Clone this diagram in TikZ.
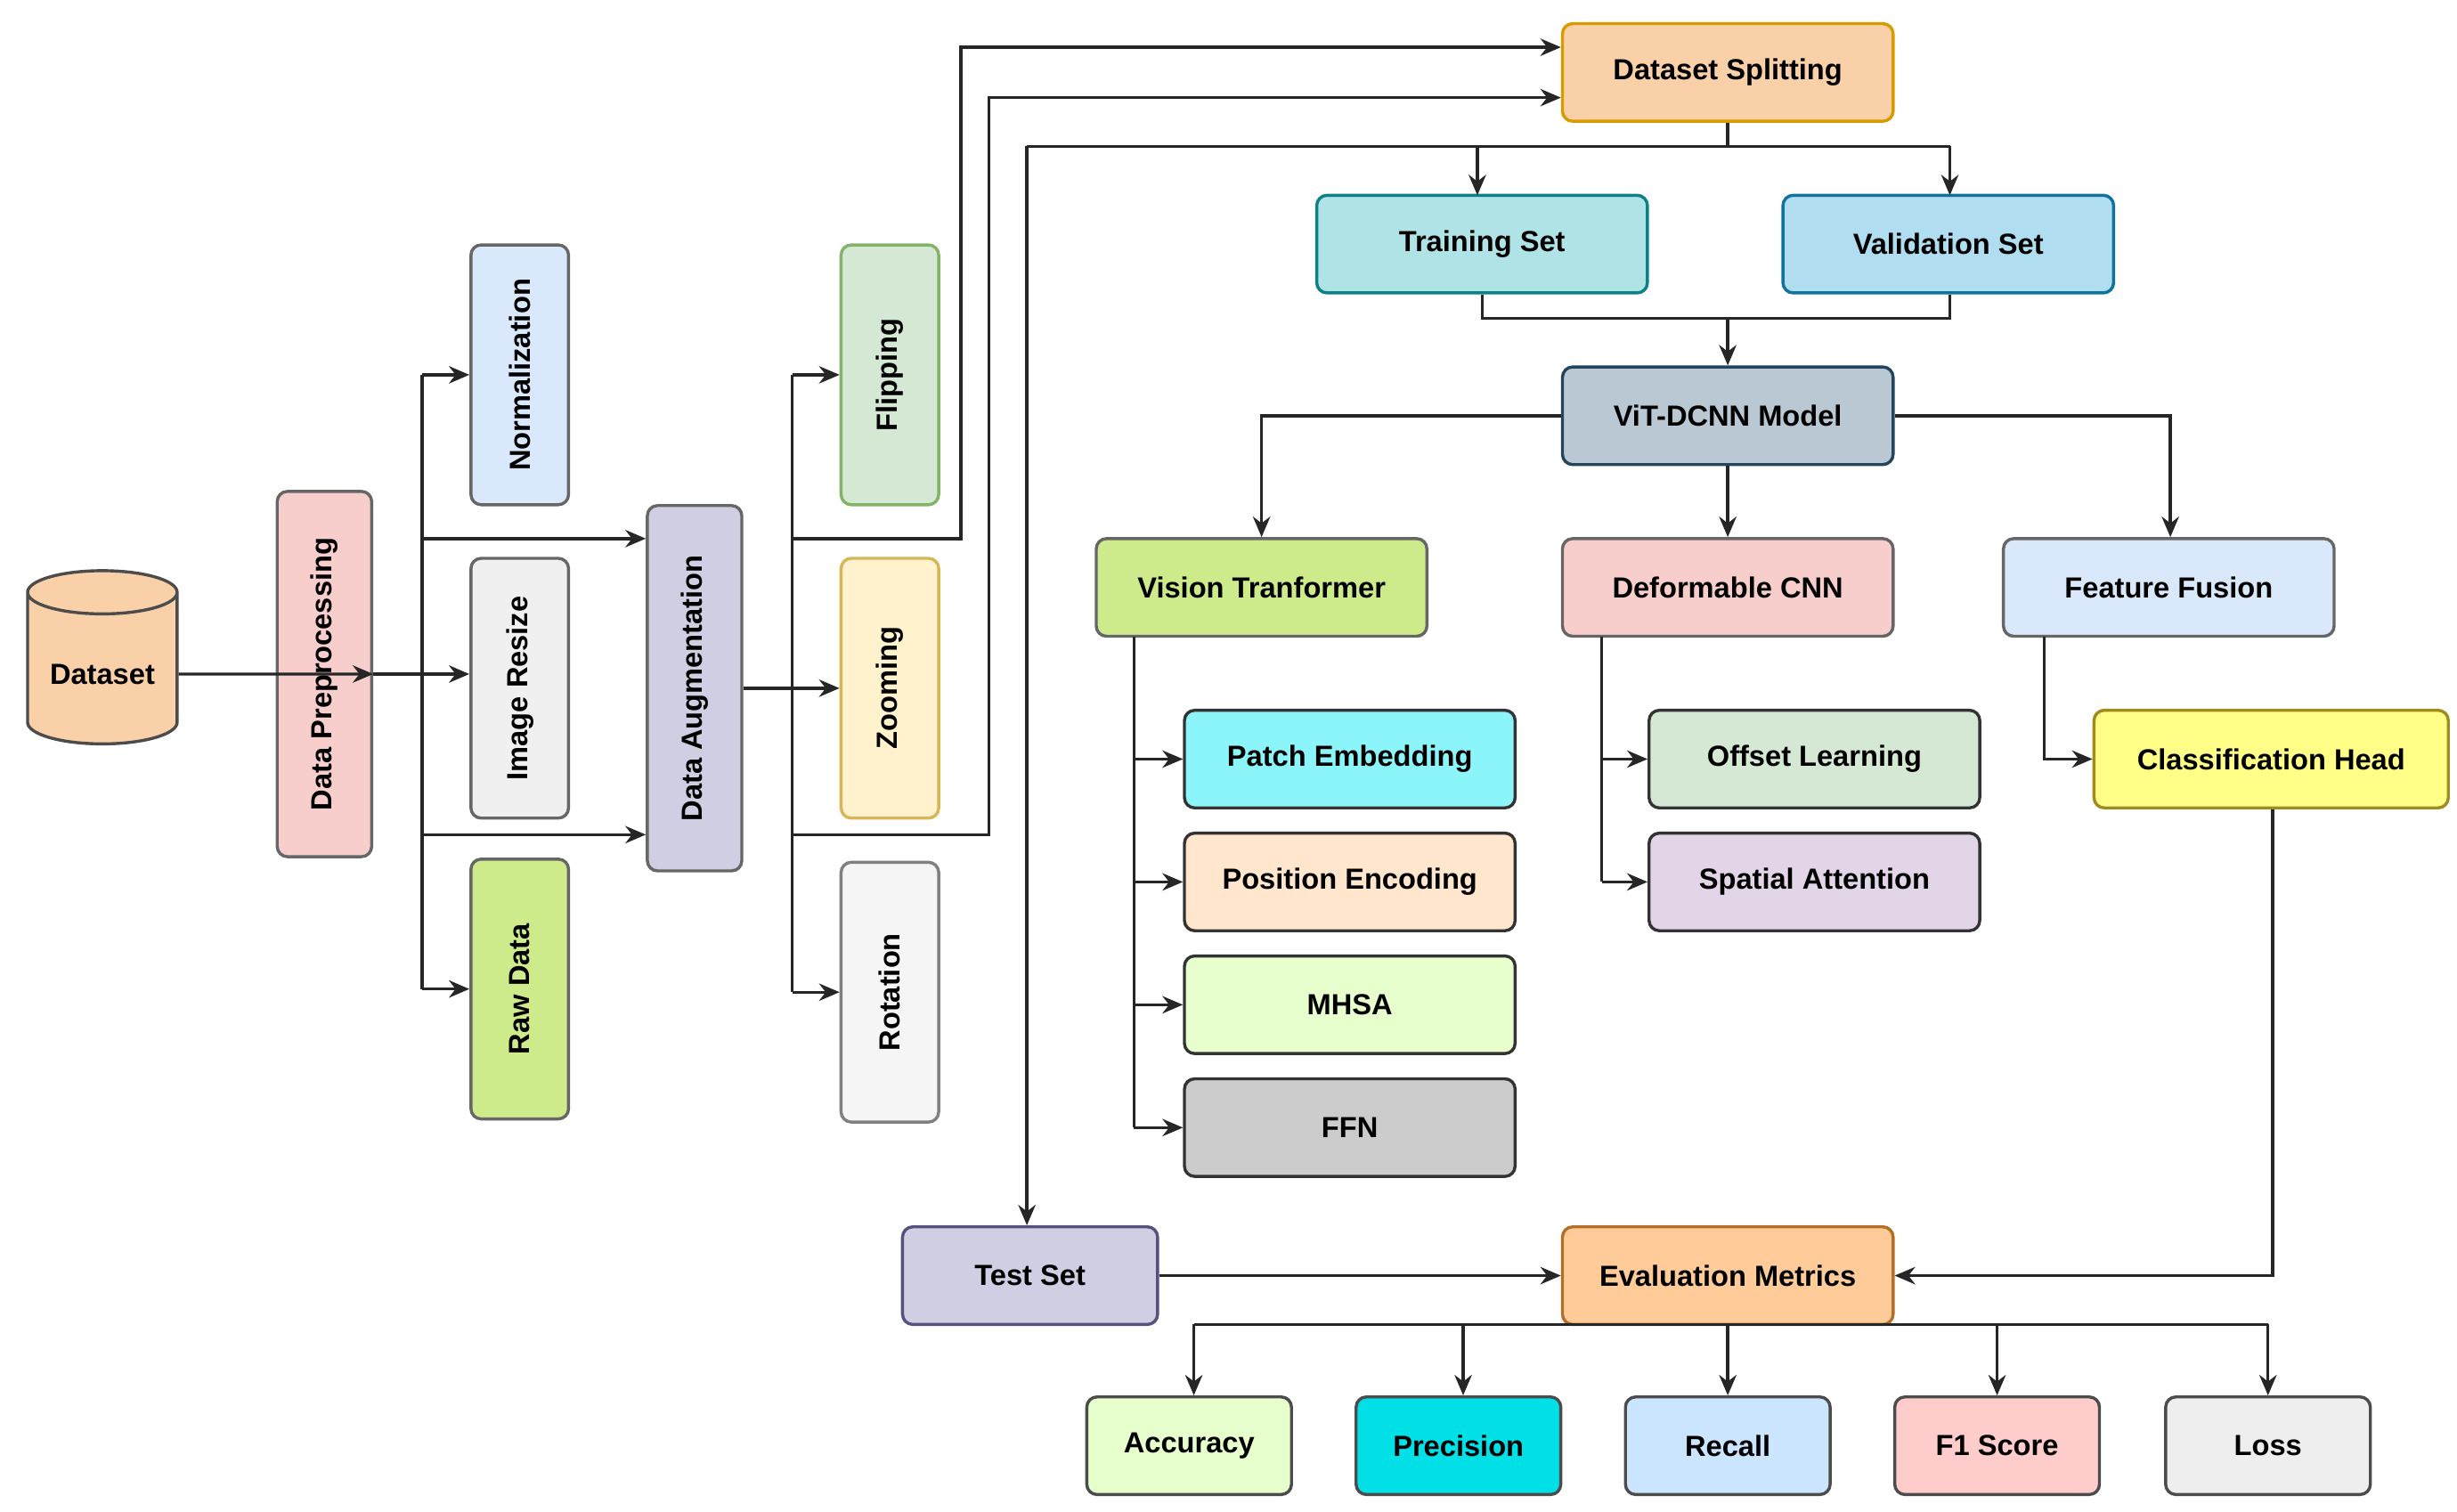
\documentclass[tikz,border=0pt]{standalone}
\usepackage{fontspec}
\setmainfont{Liberation Sans}
\usetikzlibrary{arrows.meta,shapes.geometric}
\definecolor{cOrF}{RGB}{250,208,168}\definecolor{cOrD}{RGB}{215,155,0}
\definecolor{cPk}{RGB}{248,206,204}\definecolor{cBl}{RGB}{218,232,252}
\definecolor{cGy}{RGB}{240,240,240}\definecolor{cGr}{RGB}{205,235,139}
\definecolor{cPu}{RGB}{208,206,226}
\definecolor{cFlF}{RGB}{213,232,212}\definecolor{cFlD}{RGB}{130,179,102}
\definecolor{cZoF}{RGB}{255,242,204}\definecolor{cZoD}{RGB}{214,182,86}
\definecolor{cRo}{RGB}{245,245,245}
\definecolor{cTrF}{RGB}{176,227,230}\definecolor{cTrD}{RGB}{14,128,136}
\definecolor{cVaF}{RGB}{177,221,240}\definecolor{cVaD}{RGB}{16,115,158}
\definecolor{cViF}{RGB}{186,200,211}\definecolor{cViD}{RGB}{35,68,93}
\definecolor{cPe}{RGB}{140,245,250}\definecolor{cPo}{RGB}{255,230,204}
\definecolor{cMh}{RGB}{230,255,204}\definecolor{cFn}{RGB}{204,204,204}
\definecolor{cSa}{RGB}{225,213,231}
\definecolor{cChF}{RGB}{255,255,136}\definecolor{cChD}{RGB}{160,140,30}
\definecolor{cTsD}{RGB}{86,81,125}
\definecolor{cEvF}{RGB}{255,204,153}\definecolor{cEvD}{RGB}{180,110,40}
\definecolor{cPr}{RGB}{0,224,230}\definecolor{cRe}{RGB}{204,229,255}
\definecolor{cF1}{RGB}{255,204,204}\definecolor{cLo}{RGB}{238,238,238}
\begin{document}
\begin{tikzpicture}[x=0.02cm,y=-0.02cm,
 bx/.style={draw=#1,line width=1.1pt,rounded corners=1.3mm,inner sep=1pt,font=\fontsize{10.5}{12}\selectfont\bfseries,minimum height=12.4mm,minimum width=42mm},
 vb/.style={bx=#1,rotate=90,minimum height=12.4mm,minimum width=33mm},
 ar/.style={-{Stealth[length=2.6mm,width=2.2mm]},line width=1.1pt,draw=black!85},
 ln/.style={line width=1.1pt,draw=black!85}]
\useasboundingbox (0,0) rectangle (1560,960);
\node[cylinder,shape border rotate=90,aspect=0.35,draw=black!70,fill=cOrF,line width=1.1pt,minimum width=19mm,minimum height=22mm,font=\fontsize{10.5}{12}\selectfont\bfseries] (ds) at (65,428) {Dataset};
\node[vb=black!60,fill=cPk,minimum width=46.4mm,minimum height=12mm] (dp) at (206,428) {Data Preprocessing};
\node[vb=black!60,fill=cBl] (nm) at (330,238) {Normalization};
\node[vb=black!60,fill=cGy] (ir) at (330,437) {Image Resize};
\node[vb=black!60,fill=cGr] (rd) at (330,628) {Raw Data};
\node[vb=black!60,fill=cPu,minimum width=46.4mm,minimum height=12mm] (da) at (441,437) {Data Augmentation};
\node[vb=cFlD,fill=cFlF] (fl) at (565,238) {Flipping};
\node[vb=cZoD,fill=cZoF] (zo) at (565,437) {Zooming};
\node[vb=black!50,fill=cRo] (ro) at (565,630) {Rotation};
\node[bx=cOrD,fill=cOrF] (sp) at (1097,46) {Dataset Splitting};
\node[bx=cTrD,fill=cTrF] (tr) at (941,155) {Training Set};
\node[bx=cVaD,fill=cVaF] (va) at (1237,155) {Validation Set};
\node[bx=cViD,fill=cViF] (vit) at (1097,264) {ViT-DCNN Model};
\node[bx=black!60,fill=cGr] (vt) at (801,373) {Vision Tranformer};
\node[bx=black!60,fill=cPk] (dc) at (1097,373) {Deformable CNN};
\node[bx=black!60,fill=cBl] (ff) at (1377,373) {Feature Fusion};
\node[bx=black!80,fill=cPe] (pe) at (857,482) {Patch Embedding};
\node[bx=black!80,fill=cPo] (po) at (857,560) {Position Encoding};
\node[bx=black!80,fill=cMh] (mh) at (857,638) {MHSA};
\node[bx=black!80,fill=cFn] (fn) at (857,716) {FFN};
\node[bx=black!80,fill=cFlF] (ol) at (1152,482) {Offset Learning};
\node[bx=black!80,fill=cSa] (sa) at (1152,560) {Spatial Attention};
\node[bx=cChD,fill=cChF,minimum width=45mm] (ch) at (1442,482) {Classification Head};
\node[bx=cTsD,fill=cPu,minimum width=32.4mm] (ts) at (654,810) {Test Set};
\node[bx=cEvD,fill=cEvF] (ev) at (1097,810) {Evaluation Metrics};
\node[bx=black!70,fill=cMh,minimum width=26mm] (ac) at (755,918) {Accuracy};
\node[bx=black!70,fill=cPr,minimum width=26mm] (pr) at (926,918) {Precision};
\node[bx=black!70,fill=cRe,minimum width=26mm] (re) at (1097,918) {Recall};
\node[bx=black!70,fill=cF1,minimum width=26mm] (f1) at (1268,918) {F1 Score};
\node[bx=black!70,fill=cLo,minimum width=26mm] (lo) at (1440,918) {Loss};
% preprocessing
\draw[ar] (ds.east) -- (dp.south);
\draw[ln] (268,238) -- (268,628);
\draw[ln] (dp.south) -- (268,428);
\draw[ar] (268,238) -- (nm.north);
\draw[ar] (268,428) -- (ir.north |- 0,428);
\draw[ar] (268,628) -- (rd.north);
\draw[ar] (268,342) -- (da.north |- 0,342);
\draw[ar] (268,530) -- (da.north |- 0,530);
% augmentation
\draw[ln] (503,238) -- (503,630);
\draw[ln] (da.south) -- (503,437);
\draw[ar] (503,238) -- (fl.north);
\draw[ar] (503,437) -- (zo.north);
\draw[ar] (503,630) -- (ro.north);
\draw[ar] (503,342) -- (610,342) -- (610,30) -- (sp.west |- 0,30);
\draw[ar] (503,530) -- (628,530) -- (628,62) -- (sp.west |- 0,62);
% splitting
\draw[ln] (sp.south) -- (1097,93);
\draw[ln] (652,93) -- (1238,93);
\draw[ar] (938,93) -- (938,124);
\draw[ar] (1238,93) -- (1238,124);
\draw[ar] (652,93) -- (ts.north -| 652,0);
\draw[ln] (tr.south) -- (941,202) -- (1238,202) -- (va.south -| 1238,0);
\draw[ar] (1097,202) -- (vit.north);
\draw[ar] (vit.west) -- (801,264) -- (vt.north);
\draw[ar] (vit.south) -- (dc.north);
\draw[ar] (vit.east) -- (1378,264) -- (ff.north -| 1378,0);
% vision
\draw[ln] (720,404) -- (720,716);
\foreach \n in {pe,po,mh,fn} \draw[ar] (720,0 |- \n.west) -- (\n.west);
\draw[ln] (1017,404) -- (1017,560);
\foreach \n in {ol,sa} \draw[ar] (1017,0 |- \n.west) -- (\n.west);
\draw[ar] (1298,404) -- (1298,482) -- (ch.west);
\draw[ar] (ch.south -| 1443,0) -- (1443,810) -- (ev.east);
\draw[ar] (ts.east) -- (ev.west);
\draw[ln] (758,841) -- (1440,841);
\foreach \n/\x in {ac/758,pr/929,re/1097,f1/1268,lo/1440} \draw[ar] (\x,841) -- (\n.north -| \x,0);
\end{tikzpicture}
\end{document}
